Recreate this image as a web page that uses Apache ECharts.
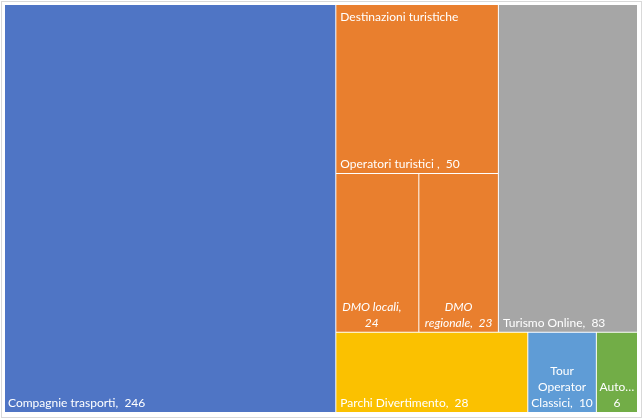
<!DOCTYPE html>
<html><head><meta charset="utf-8">
<script src="https://cdn.jsdelivr.net/npm/echarts@6/dist/echarts.min.js"></script>
<style>
html,body{margin:0;padding:0;background:#fff}
#wrap{position:relative;width:643px;height:419px;}
#c{width:643px;height:419px;}
#frame{position:absolute;left:1px;top:1px;width:639px;height:415px;border:1px solid #d9d9d9;pointer-events:none;}
</style>
</head><body><div id="wrap"><div id="c"></div><div id="frame"></div></div>
<script>
// ---- data ----
const topNames = ["Compagnie trasporti","Destinazioni turistiche","Turismo Online","Parchi Divertimento","Tour Operator Classici","Auto…"];
const subNames = ["Operatori turistici","DMO locali","DMO regionale"];
const subValues = [50, 24, 23];
const topValues = [246, subValues.reduce((a,b)=>a+b,0), 83, 28, 10, 6];
const topLabels = ["Compagnie trasporti,  246", "Destinazioni turistiche", "Turismo Online,  83", "Parchi Divertimento,  28", "Tour\nOperator\nClassici,  10", "Auto…\n6"];
const subLabels = ["Operatori turistici ,  50", "DMO locali,\n24", "DMO\nregionale,  23"];
const colors = ["#4F75C5","#E97F2E","#A6A6A6","#FBC100","#5F9CD6","#72AD47"];

const font = 'Lato';
function lbl(extra){
  return Object.assign({show:true, color:'#fff', fontFamily:font, fontSize:12, lineHeight:16,
    position:'insideBottomLeft', padding:[0,0,1,3]}, extra||{});
}

const dataA = topNames.map((n,i)=>{
  if (i===1) {
    return {name:n, value:topValues[i],
      itemStyle:{color:'rgba(0,0,0,0)', borderColor:'rgba(0,0,0,0)'},
      label: lbl({formatter: topLabels[i], position:'insideTopLeft', padding:[4,0,0,4]})};
  }
  let label;
  if (i>=4) label = lbl({formatter: topLabels[i], position:'insideBottom', align:'center', padding:[0,0,1,0]});
  else label = lbl({formatter: topLabels[i], padding: i===0 ? [0,0,1,3] : [0,0,1,4]});
  return {name:n, value:topValues[i], itemStyle:{color:colors[i]}, label};
});

const dataB = subNames.map((s,j)=>({
  name:s, value:subValues[j], itemStyle:{color:colors[1]},
  label: j===0 ? lbl({formatter: subLabels[j], padding:[0,0,1,4]})
       : lbl({formatter: subLabels[j], fontStyle:'italic', position:'insideBottom', align:'center',
              padding: j===1 ? [0,11,1,0] : [0,0,1,0]})
}));

const chart = echarts.init(document.getElementById('c'));
const seriesA = {
  type:'treemap', id:'a', z:3, left:5, top:5, width:632, height:407,
  roam:false, nodeClick:false, breadcrumb:{show:false}, animation:false,
  data:dataA,
  levels:[
    {itemStyle:{borderWidth:0, gapWidth:1, borderColor:'rgba(0,0,0,0)'}},
    {itemStyle:{borderWidth:0, gapWidth:1, borderColor:'rgba(0,0,0,0)'}}
  ]
};
chart.setOption({animation:false, series:[seriesA]});

// Place the inner treemap on the Destinazioni tile, using the layout computed by ECharts
const sA = chart.getModel().getSeriesByIndex(0);
const tree = sA.getData().tree;
const dn = tree.root.children.find(n=>n.name===topNames[1]);
const L = dn.getLayout();
const R = tree.root.getLayout() || {x:0,y:0};
const info = sA.layoutInfo || {x:5,y:5};
const bx = (info.x||0) + (R.x||0) + L.x;
const by = (info.y||0) + (R.y||0) + L.y;

chart.setOption({series:[
  {id:'a'},
  {
    type:'treemap', id:'b', z:2, left:bx, top:by, width:L.width, height:L.height,
    squareRatio:1, roam:false, nodeClick:false, breadcrumb:{show:false}, animation:false,
    data:dataB,
    levels:[
      {itemStyle:{borderWidth:0, gapWidth:1, borderColor:'#fff'}},
      {itemStyle:{borderWidth:0, gapWidth:1, borderColor:'#fff'}}
    ]
  }
]});
</script></body></html>
